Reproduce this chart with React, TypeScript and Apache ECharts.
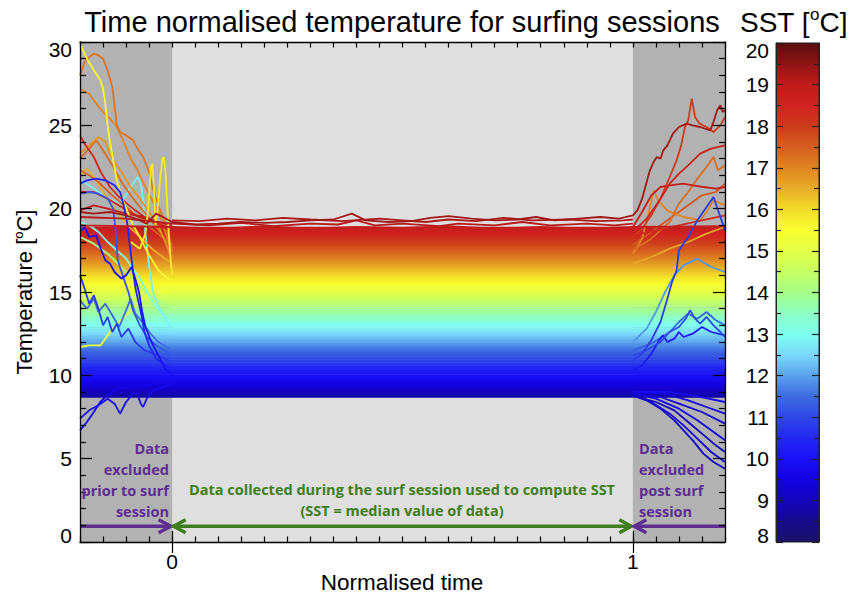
import React, { useEffect, useRef } from 'react';
import * as echarts from 'echarts';

type Pt = [number, number];

// ---------- axes / ranges ----------
const xRange = [-0.2, 1.2];
const yRange = [0, 30];
const xMajorTicks = [0, 1];
const sessionBounds = [0, 1];
const sstRange = [8, 20];
const arrowLevel = 0.95;

// ---------- colour scale (SST -> colour) ----------
const cmapStops = [8, 8.5, 9, 9.5, 10, 10.5, 11, 11.5, 12, 12.5, 13, 13.5, 14, 14.5, 15, 15.5, 16, 16.5, 17, 17.5, 18, 18.5, 19, 19.5, 20];
const cmapColors = ['#1c1266', '#160a8c', '#1404bc', '#1402e2', '#1a10f6', '#2228f0', '#3048e6', '#3e6ae0', '#5aa2ec', '#7ad8f8', '#80fff0', '#8effc4', '#a6ff8a', '#c6ff62', '#e4ff48', '#f8ff30', '#f2dc2a', '#e8ae28', '#de8422', '#d65e20', '#cc3c1c', '#d02220', '#c01c1c', '#8e1414', '#5a0e10'];

// ---------- sessions forming the dense band (SST of each session) ----------
const bandSST = [8.72, 8.8, 8.88, 8.97, 9.05, 9.14, 9.22, 9.3, 9.4, 9.48, 9.57, 9.65, 9.74, 9.83, 9.92, 10.0, 10.1, 10.18, 10.27, 10.36, 10.45, 10.55, 10.63, 10.72, 10.82, 10.9, 11.0, 11.08, 11.18, 11.27, 11.36, 11.46, 11.55, 11.64, 11.74, 11.83, 11.92, 12.02, 12.12, 12.22, 12.3, 12.42, 12.5, 12.6, 12.7, 12.82, 12.95, 13.05, 13.15, 13.25, 13.35, 13.45, 13.56, 13.7, 13.8, 13.9, 14.0, 14.15, 14.25, 14.35, 14.45, 14.55, 14.65, 14.75, 14.85, 14.95, 15.05, 15.15, 15.25, 15.35, 15.45, 15.55, 15.65, 15.75, 15.85, 15.95, 16.05, 16.15, 16.25, 16.35, 16.45, 16.55, 16.65, 16.75, 16.85, 16.95, 17.05, 17.15, 17.25, 17.35, 17.45, 17.55, 17.65, 17.75, 17.85, 17.95, 18.05, 18.15, 18.25, 18.35, 18.45, 18.55, 18.65, 18.75, 18.85];

// ---------- individually visible traces ----------
const warmestSession: Pt[] = [[-0.2, 19.8], [-0.17, 19.7], [-0.135, 19.8], [-0.1, 19.6], [-0.07, 19.3], [-0.055, 19.1], [-0.045, 19.4], [-0.035, 19.7], [-0.02, 19.5], [0, 19.2], [0.05, 19.05], [0.1, 19.1], [0.15, 19.2], [0.2, 19.15], [0.25, 19.2], [0.3, 19.3], [0.35, 19.35], [0.39, 19.7], [0.42, 19.3], [0.47, 19.2], [0.52, 19.25], [0.56, 19.45], [0.6, 19.55], [0.65, 19.4], [0.7, 19.3], [0.75, 19.35], [0.79, 19.5], [0.83, 19.3], [0.88, 19.4], [0.93, 19.5], [0.97, 19.4], [1.0, 19.6], [1.01, 19.9], [1.02, 20.6], [1.03, 21.6], [1.037, 22.3], [1.045, 22.8], [1.052, 23.1], [1.06, 23.0], [1.066, 23.5], [1.075, 23.8], [1.087, 24.5], [1.1, 24.9], [1.117, 25.1], [1.13, 25.0], [1.146, 24.9], [1.168, 24.7], [1.175, 25.2], [1.183, 25.9], [1.19, 26.2], [1.195, 25.8], [1.2, 25.9]];
const warmSession2: Pt[] = [[-0.2, 19.5], [-0.1, 19.4], [0, 19.1], [0.08, 19.0], [0.15, 19.15], [0.22, 18.95], [0.3, 19.1], [0.36, 19.05], [0.4, 19.3], [0.44, 19.0], [0.5, 19.1], [0.58, 18.95], [0.62, 19.1], [0.7, 19.0], [0.76, 19.2], [0.82, 19.0], [0.9, 19.1], [0.96, 19.0], [1.0, 19.1]];
const warmSession3: Pt[] = [[-0.2, 19.0], [0, 18.9], [0.1, 18.8], [0.2, 18.95], [0.3, 18.8], [0.4, 18.9], [0.5, 18.85], [0.6, 18.95], [0.7, 18.8], [0.8, 18.9], [0.9, 18.8], [1.0, 18.9], [1.2, 18.95]];
const warmSession4: Pt[] = [[0, 19.3], [0.06, 19.25], [0.12, 19.4], [0.18, 19.3], [0.24, 19.45], [0.3, 19.35], [0.37, 19.25], [0.45, 19.4], [0.5, 19.3], [0.55, 19.2], [0.6, 19.35], [0.66, 19.25], [0.72, 19.45], [0.78, 19.3], [0.86, 19.35], [0.92, 19.25], [0.98, 19.3], [1.0, 19.35]];

// pre-session (x < 0)
const preYellowSteep: Pt[] = [[-0.2, 29.9], [-0.185, 29.0], [-0.17, 28.3], [-0.156, 27.7], [-0.15, 27.2], [-0.145, 26.3], [-0.139, 24.7], [-0.13, 23.2], [-0.12, 21.7], [-0.11, 20.7], [-0.098, 19.9], [-0.085, 19.0], [-0.07, 18.3], [-0.05, 17.2], [-0.03, 16.3], [0, 15.6]];
const preYellowSpikes: Pt[] = [[-0.09, 18.0], [-0.07, 17.6], [-0.058, 18.5], [-0.052, 20.0], [-0.046, 22.5], [-0.043, 22.7], [-0.04, 21.5], [-0.036, 19.0], [-0.032, 19.8], [-0.026, 21.8], [-0.021, 23.0], [-0.018, 23.1], [-0.014, 22.0], [-0.01, 19.8], [-0.005, 17.5], [0, 16.0]];
const preOrangeTop: Pt[] = [[-0.2, 28.0], [-0.19, 28.8], [-0.18, 29.1], [-0.17, 29.3], [-0.16, 29.2], [-0.15, 29.0], [-0.14, 28.3], [-0.135, 27.8], [-0.13, 27.3], [-0.125, 26.2], [-0.12, 25.0], [-0.113, 24.6], [-0.1, 24.4], [-0.085, 24.1], [-0.075, 23.6], [-0.063, 23.1], [-0.05, 22.2], [-0.041, 21.1], [-0.03, 20.2], [-0.02, 19.5], [-0.01, 18.6], [0, 17.6]];
const preOrange2: Pt[] = [[-0.2, 27.2], [-0.18, 26.9], [-0.17, 26.5], [-0.15, 25.8], [-0.135, 25.4], [-0.12, 24.9], [-0.105, 24.0], [-0.09, 23.0], [-0.075, 22.3], [-0.06, 21.4], [-0.045, 20.6], [-0.03, 19.8], [-0.015, 18.6], [0, 17.4]];
const preOrange3: Pt[] = [[-0.2, 23.3], [-0.18, 23.8], [-0.16, 24.3], [-0.145, 24.0], [-0.13, 23.0], [-0.11, 22.2], [-0.09, 21.3], [-0.07, 20.6], [-0.05, 19.8], [-0.03, 19.0], [0, 17.0]];
const preOrange4: Pt[] = [[-0.2, 23.0], [-0.18, 23.6], [-0.165, 24.1], [-0.15, 23.5], [-0.13, 22.6], [-0.11, 21.6], [-0.09, 20.8], [-0.07, 20.1], [-0.04, 19.1], [0, 17.6]];
const preOrange5: Pt[] = [[-0.2, 22.3], [-0.18, 22.0], [-0.16, 21.6], [-0.13, 20.8], [-0.1, 20.1], [-0.07, 19.4], [-0.04, 18.7], [0, 17.8]];
const preAmber: Pt[] = [[-0.2, 22.0], [-0.185, 22.4], [-0.17, 21.9], [-0.15, 21.0], [-0.125, 20.0], [-0.1, 19.1], [-0.07, 18.3], [-0.04, 17.5], [0, 16.7]];
const preRed1: Pt[] = [[-0.2, 24.4], [-0.19, 23.9], [-0.17, 23.1], [-0.155, 22.2], [-0.135, 21.3], [-0.115, 20.7], [-0.098, 20.3], [-0.08, 19.9], [-0.06, 19.5], [-0.04, 19.2], [-0.02, 18.9], [0, 18.6]];
const preRed2: Pt[] = [[-0.2, 21.0], [-0.17, 21.0], [-0.14, 20.6], [-0.11, 20.1], [-0.08, 19.6], [-0.05, 19.3], [-0.02, 19.0], [0, 18.8]];
const preDarkRed: Pt[] = [[-0.2, 19.9], [-0.17, 20.2], [-0.14, 20.0], [-0.1, 19.7], [-0.06, 19.5], [-0.03, 19.2], [0, 19.0]];
const preCyan: Pt[] = [[-0.2, 21.7], [-0.18, 21.4], [-0.16, 21.0], [-0.14, 20.6], [-0.12, 20.4], [-0.105, 20.6], [-0.095, 21.1], [-0.085, 21.5], [-0.075, 21.9], [-0.068, 21.5], [-0.062, 20.3], [-0.058, 18.5], [-0.05, 16.5], [-0.04, 14.8], [-0.02, 13.6], [0, 12.8]];
const preAqua: Pt[] = [[-0.2, 19.2], [-0.18, 19.0], [-0.16, 18.6], [-0.14, 18.0], [-0.12, 17.5], [-0.1, 17.0], [-0.07, 15.8], [-0.04, 14.3], [0, 13.0]];
const preGreen: Pt[] = [[-0.2, 18.3], [-0.17, 17.9], [-0.14, 17.3], [-0.11, 16.5], [-0.08, 15.6], [-0.05, 14.8], [0, 14.0]];
const preBlueA: Pt[] = [[-0.2, 21.5], [-0.185, 21.7], [-0.165, 21.8], [-0.145, 21.7], [-0.125, 21.4], [-0.113, 21.0], [-0.105, 20.2], [-0.098, 19.2], [-0.092, 17.8], [-0.086, 16.5], [-0.08, 15.3], [-0.074, 14.5], [-0.068, 13.8], [-0.06, 12.6], [-0.05, 11.8], [-0.035, 11.0], [-0.015, 10.6], [0, 10.4]];
const preBlueB: Pt[] = [[-0.2, 20.9], [-0.18, 21.0], [-0.16, 20.9], [-0.14, 20.6], [-0.128, 20.0], [-0.122, 18.5], [-0.118, 16.9], [-0.112, 16.4], [-0.105, 15.8], [-0.095, 15.0], [-0.085, 13.9], [-0.07, 13.0], [-0.055, 12.3], [-0.035, 11.8], [0, 11.2]];
const preBlueSpiky: Pt[] = [[-0.2, 18.6], [-0.19, 18.9], [-0.18, 18.3], [-0.165, 18.4], [-0.155, 17.6], [-0.145, 16.9], [-0.135, 16.7], [-0.125, 16.2], [-0.11, 15.8], [-0.1, 16.0], [-0.088, 16.5], [-0.078, 15.6], [-0.072, 15.0], [-0.065, 13.8], [-0.058, 12.9], [-0.045, 12.0], [-0.03, 11.2], [-0.015, 10.4], [0, 10.0]];
const preBlueZig1: Pt[] = [[-0.2, 16.0], [-0.19, 15.2], [-0.18, 14.3], [-0.17, 14.8], [-0.16, 14.0], [-0.15, 13.0], [-0.14, 13.5], [-0.13, 12.6], [-0.12, 13.1], [-0.11, 12.3], [-0.095, 12.8], [-0.08, 12.0], [-0.06, 11.5], [-0.04, 11.3], [0, 10.8]];
const preBlueZig2: Pt[] = [[-0.2, 14.5], [-0.185, 14.0], [-0.17, 14.6], [-0.16, 13.8], [-0.145, 14.3], [-0.13, 13.6], [-0.115, 12.9], [-0.1, 13.9], [-0.09, 14.6], [-0.08, 13.7], [-0.065, 13.2], [-0.05, 12.6], [-0.03, 12.0], [0, 11.5]];
const preLime: Pt[] = [[-0.2, 11.7], [-0.18, 11.8], [-0.155, 11.8], [-0.14, 12.4], [-0.12, 13.1], [-0.1, 13.6], [-0.085, 14.0], [-0.07, 14.5], [-0.05, 14.9], [-0.03, 15.0], [0, 15.0]];
const preBlueLow1: Pt[] = [[-0.2, 6.7], [-0.185, 7.2], [-0.17, 7.8], [-0.156, 8.4], [-0.145, 8.7], [-0.135, 8.9], [-0.12, 9.2], [-0.1, 9.3], [0, 9.6]];
const preBlueLow2: Pt[] = [[-0.2, 7.4], [-0.18, 7.9], [-0.16, 8.2], [-0.14, 8.6], [-0.125, 8.3], [-0.113, 7.7], [-0.1, 8.4], [-0.085, 8.9], [-0.076, 8.9], [-0.068, 8.3], [-0.063, 8.1], [-0.055, 8.6], [-0.045, 9.0], [-0.03, 9.2], [0, 9.5]];

// post-session (x > 1)
const postOrangeRedPeak: Pt[] = [[1.0, 18.3], [1.02, 18.8], [1.04, 19.6], [1.06, 20.6], [1.08, 21.9], [1.095, 22.9], [1.105, 23.8], [1.113, 24.9], [1.12, 25.3], [1.128, 26.6], [1.135, 25.5], [1.145, 25.1], [1.16, 24.9], [1.175, 24.6], [1.19, 25.0], [1.2, 25.5]];
const postRed1: Pt[] = [[1.0, 18.6], [1.03, 19.4], [1.06, 20.6], [1.08, 21.5], [1.1, 22.1], [1.12, 22.6], [1.146, 23.3], [1.17, 23.6], [1.2, 23.8]];
const postRed2: Pt[] = [[1.0, 18.9], [1.02, 19.8], [1.04, 20.8], [1.06, 21.3], [1.08, 21.4], [1.11, 21.5], [1.13, 21.4], [1.153, 21.3], [1.18, 21.2], [1.2, 21.3]];
const postRed3: Pt[] = [[1.0, 18.4], [1.05, 18.7], [1.1, 19.0], [1.15, 19.3], [1.2, 19.6]];
const postOrange1: Pt[] = [[1.0, 17.5], [1.04, 18.2], [1.08, 19.2], [1.1, 20.3], [1.12, 21.0], [1.14, 21.8], [1.16, 22.5], [1.175, 23.1], [1.185, 22.3], [1.2, 22.6]];
const postOrange2: Pt[] = [[1.0, 17.3], [1.02, 18.2], [1.035, 19.8], [1.045, 21.1], [1.055, 20.5], [1.074, 19.9], [1.09, 19.7], [1.11, 19.5], [1.13, 19.4], [1.146, 19.3], [1.16, 19.8], [1.175, 20.5], [1.2, 20.2]];
const postOrange3: Pt[] = [[1.0, 17.8], [1.03, 18.4], [1.06, 19.0], [1.09, 19.6], [1.12, 20.2], [1.15, 20.8], [1.18, 21.0], [1.2, 21.5]];
const postAmber: Pt[] = [[1.0, 16.7], [1.04, 17.1], [1.08, 17.6], [1.12, 18.0], [1.16, 18.5], [1.2, 18.9]];
const postBlueRise1: Pt[] = [[1.0, 10.9], [1.02, 11.3], [1.04, 12.1], [1.06, 13.2], [1.074, 14.5], [1.085, 15.6], [1.095, 16.3], [1.1, 17.5], [1.12, 18.3], [1.14, 19.3], [1.16, 20.1], [1.175, 20.7], [1.19, 19.5], [1.2, 18.7]];
const postBlueRise2: Pt[] = [[1.0, 12.0], [1.03, 12.8], [1.05, 13.8], [1.07, 15.0], [1.09, 16.0], [1.11, 16.6], [1.14, 17.0], [1.17, 16.5], [1.2, 16.2]];
const postBlueBump1: Pt[] = [[1.0, 11.2], [1.03, 11.5], [1.06, 12.0], [1.08, 12.6], [1.1, 12.9], [1.115, 13.4], [1.124, 13.9], [1.135, 13.4], [1.146, 13.1], [1.16, 13.5], [1.175, 13.0], [1.19, 12.6], [1.2, 12.3]];
const postBlueBump2: Pt[] = [[1.0, 10.3], [1.02, 10.6], [1.04, 11.3], [1.055, 12.0], [1.065, 12.4], [1.075, 12.0], [1.09, 12.2], [1.1, 12.6], [1.11, 12.3], [1.13, 12.5], [1.15, 12.9], [1.17, 12.6], [1.2, 12.4]];
const postBlueBump3: Pt[] = [[1.0, 11.5], [1.04, 11.9], [1.08, 12.6], [1.1, 13.2], [1.12, 13.7], [1.14, 13.4], [1.16, 13.8], [1.18, 13.3], [1.2, 13.0]];
const postBlueDrop1: Pt[] = [[1.0, 8.8], [1.03, 8.5], [1.06, 8.0], [1.09, 7.3], [1.11, 6.7], [1.13, 6.1], [1.153, 5.3], [1.175, 4.8], [1.2, 4.4]];
const postBlueDrop2: Pt[] = [[1.0, 8.8], [1.04, 8.4], [1.08, 7.7], [1.11, 7.0], [1.14, 6.2], [1.17, 5.4], [1.2, 4.8]];
const postBlueDrop3: Pt[] = [[1.0, 8.8], [1.05, 8.4], [1.09, 7.9], [1.12, 7.2], [1.15, 6.5], [1.18, 5.8], [1.2, 5.4]];
const postBlueDrop4: Pt[] = [[1.0, 8.9], [1.05, 8.6], [1.1, 8.0], [1.14, 7.3], [1.17, 6.7], [1.2, 6.1]];
const postBlueDrop5: Pt[] = [[1.0, 8.9], [1.06, 8.7], [1.1, 8.3], [1.15, 7.8], [1.2, 7.1]];
const postBlueDrop6: Pt[] = [[1.0, 9.0], [1.07, 8.9], [1.12, 8.5], [1.16, 8.1], [1.2, 7.7]];
const postBlueDrop7: Pt[] = [[1.0, 9.0], [1.08, 9.0], [1.13, 8.8], [1.2, 8.4]];

// [SST of the session, trace]
const highlightedTraces: [number, Pt[]][] = [
  [15.3, preLime], [9.6, preBlueLow1], [9.8, preBlueLow2],
  [14.0, preGreen], [13.0, preAqua], [12.8, preCyan],
  [16.5, preAmber], [17.5, preOrange5], [17.3, preOrange4], [16.8, preOrange3], [17.0, preOrange2], [17.2, preOrangeTop],
  [18.6, preRed2], [18.4, preRed1], [19.0, preDarkRed],
  [15.6, preYellowSteep], [15.8, preYellowSpikes],
  [11.5, preBlueZig2], [10.8, preBlueZig1], [11.2, preBlueB], [10.4, preBlueA], [10.0, preBlueSpiky],
  [16.6, postAmber], [17.6, postOrange3], [17.0, postOrange2], [17.3, postOrange1], [18.0, postOrangeRedPeak],
  [18.3, postRed3], [18.8, postRed2], [18.6, postRed1],
  [11.4, postBlueBump3], [10.2, postBlueBump2], [11.0, postBlueBump1], [11.9, postBlueRise2], [10.8, postBlueRise1],
  [9.2, postBlueDrop1], [9.4, postBlueDrop2], [9.0, postBlueDrop3], [9.6, postBlueDrop4], [9.3, postBlueDrop5], [9.5, postBlueDrop6], [9.8, postBlueDrop7],
  [18.9, warmSession3], [19.1, warmSession2], [19.2, warmSession4], [19.3, warmestSession],
];

// arrows: [from x, to x, level, head at from, head at to, colour index]
const arrowSpecs = [
  [-0.2, 0, arrowLevel, 0, 1, 0],
  [0, 1, arrowLevel, 1, 1, 1],
  [1.2, 1, arrowLevel, 0, 1, 0],
];
const annotationColors = ['#5d2d92', '#3f7e1e'];

// ---------- helpers ----------
function hexRgb(h: string) {
  const n = parseInt(h.slice(1), 16);
  return [(n >> 16) & 255, (n >> 8) & 255, n & 255];
}
function sstColor(v: number) {
  const s = cmapStops;
  if (v <= s[0]) return cmapColors[0];
  if (v >= s[s.length - 1]) return cmapColors[s.length - 1];
  let i = 0;
  while (s[i + 1] < v) i++;
  const t = (v - s[i]) / (s[i + 1] - s[i]);
  const a = hexRgb(cmapColors[i]);
  const b = hexRgb(cmapColors[i + 1]);
  const c = a.map((av, k) => Math.round(av + (b[k] - av) * t));
  return `rgb(${c[0]},${c[1]},${c[2]})`;
}

const FONT = "'Liberation Sans', Arial, Helvetica, sans-serif";
const ANNOT_FONT = "'Open Sans', 'DejaVu Sans', sans-serif";
const black = '#000';

function buildOption() {
  const series: any[] = [];

  bandSST.forEach((sst, i) => {
    const s: any = {
      type: 'line',
      data: [[xRange[0], sst], [sessionBounds[0], sst], [sessionBounds[1], sst], [xRange[1], sst]],
      showSymbol: false,
      symbol: 'none',
      silent: true,
      lineStyle: { color: sstColor(sst), width: 2.3 },
      z: 2,
    };
    if (i === 0) {
      s.markArea = {
        silent: true,
        itemStyle: { color: '#b2b2b2' },
        data: [
          [{ xAxis: xRange[0] }, { xAxis: sessionBounds[0] }],
          [{ xAxis: sessionBounds[1] }, { xAxis: xRange[1] }],
        ],
      };
    }
    series.push(s);
  });

  highlightedTraces.forEach(([sst, pts]) => {
    series.push({
      type: 'line',
      data: pts,
      showSymbol: false,
      symbol: 'none',
      silent: true,
      lineStyle: { color: sstColor(sst), width: 1.8 },
      z: 3,
    });
  });

  series.push({
    type: 'custom',
    xAxisIndex: 0,
    yAxisIndex: 0,
    silent: true,
    z: 5,
    data: arrowSpecs,
    renderItem: (_p: any, api: any) => {
      const a = api.coord([api.value(0), api.value(2)]);
      const b = api.coord([api.value(1), api.value(2)]);
      const color = annotationColors[api.value(5)];
      const dir = Math.sign(b[0] - a[0]);
      const w = 3.5;
      const children: any[] = [
        { type: 'line', shape: { x1: a[0], y1: a[1], x2: b[0] - dir * 1.5, y2: b[1] }, style: { stroke: color, lineWidth: w } },
      ];
      const head = (tip: number[], d: number) => ({
        type: 'polyline',
        shape: { points: [[tip[0] - d * 12, tip[1] - 6.5], [tip[0], tip[1]], [tip[0] - d * 12, tip[1] + 6.5]] },
        style: { stroke: color, lineWidth: w, fill: null, lineJoin: 'miter' },
      });
      if (api.value(4)) children.push(head([b[0] - dir * 1.5, b[1]], dir));
      if (api.value(3)) children.push(head([a[0] + dir * 1.5, a[1]], -dir));
      return { type: 'group', children };
    },
  });

  // colour bar
  const stops = cmapStops
    .map((v, i) => ({ offset: (sstRange[1] - v) / (sstRange[1] - sstRange[0]), color: cmapColors[i] }))
    .sort((p, q) => p.offset - q.offset);
  series.push({
    type: 'custom',
    xAxisIndex: 4,
    yAxisIndex: 2,
    silent: true,
    z: 1,
    data: [[0, sstRange[0], 1, sstRange[1]]],
    renderItem: (_p: any, api: any) => {
      const p0 = api.coord([api.value(0), api.value(3)]);
      const p1 = api.coord([api.value(2), api.value(1)]);
      return {
        type: 'rect',
        shape: { x: p0[0], y: p0[1], width: p1[0] - p0[0], height: p1[1] - p0[1] },
        style: { fill: new echarts.graphic.LinearGradient(0, 0, 0, 1, stops), stroke: '#222', lineWidth: 1 },
      };
    },
  });

  const axisLine = { show: true, onZero: false, lineStyle: { color: black, width: 1.3 } };
  const tickStyle = { color: black, width: 1.2 };
  const labelStyle = { color: black, fontSize: 21, fontFamily: FONT };

  const xBase = { type: 'value', gridIndex: 0, min: xRange[0], max: xRange[1], splitLine: { show: false }, z: 10 };
  const xAxis: any[] = [
    { ...xBase, position: 'bottom', interval: 0.05, axisLine, axisTick: { show: true, inside: true, length: 5.5, lineStyle: tickStyle }, axisLabel: { show: false } },
    {
      ...xBase, position: 'bottom', axisLine: { show: false },
      axisTick: { show: true, inside: true, length: 11, lineStyle: tickStyle, customValues: xMajorTicks },
      axisLabel: { show: true, customValues: xMajorTicks, margin: 9, ...labelStyle },
    },
    { ...xBase, position: 'top', interval: 0.05, axisLine, axisTick: { show: true, inside: true, length: 5.5, lineStyle: tickStyle }, axisLabel: { show: false } },
    { ...xBase, position: 'top', axisLine: { show: false }, axisTick: { show: true, inside: true, length: 11, lineStyle: tickStyle, customValues: xMajorTicks }, axisLabel: { show: false } },
    { type: 'value', gridIndex: 1, min: 0, max: 1, show: false },
  ];

  const supRich = { sup: { fontSize: 13, verticalAlign: 'top', fontFamily: FONT, color: black } };
  const yBase = {
    type: 'value', gridIndex: 0, min: yRange[0], max: yRange[1], interval: 5, splitLine: { show: false }, z: 10,
    axisLine, axisTick: { show: true, inside: true, length: 12, lineStyle: tickStyle },
    minorTick: { show: true, splitNumber: 5, length: 6, lineStyle: tickStyle },
  };
  const cbBase = {
    type: 'value', gridIndex: 1, min: sstRange[0], max: sstRange[1], interval: 1, splitLine: { show: false }, z: 10,
    axisLine: { show: true, onZero: false, lineStyle: { color: '#222', width: 1 } },
    axisTick: { show: true, inside: true, length: 7, lineStyle: { color: '#222', width: 1.2 } },
    minorTick: { show: true, splitNumber: 2, length: 5, lineStyle: { color: '#222', width: 1.2 } },
  };
  const edgeLabel = { verticalAlignMinLabel: 'bottom', verticalAlignMaxLabel: 'top', lineHeight: 14 };
  const yAxis: any[] = [
    {
      ...yBase, position: 'left',
      axisLabel: { show: true, margin: 8, ...edgeLabel, ...labelStyle },
      name: 'Temperature [{sup|o}C]', nameLocation: 'middle', nameGap: 44, nameRotate: 90,
      nameTextStyle: { color: black, fontSize: 22, fontFamily: FONT, lineHeight: 24, rich: supRich },
    },
    { ...yBase, position: 'right', axisLabel: { show: false } },
    { ...cbBase, position: 'left', axisLabel: { show: true, margin: 7, ...edgeLabel, ...labelStyle } },
    { ...cbBase, position: 'right', axisLabel: { show: false } },
  ];

  const annot = (text: string, x: number, y: number, align: string, color: string) => ({
    type: 'text', x, y, z: 100, silent: true,
    style: { text, fontSize: 14.5, fontWeight: 'bold', fontFamily: ANNOT_FONT, fill: color, lineHeight: 20.7, align, verticalAlign: 'top', textAlign: align, textVerticalAlign: 'top' },
  });

  const graphic: any[] = [
    {
      type: 'text', x: 402, y: 22, z: 100, silent: true,
      style: { text: 'Time normalised temperature for surfing sessions', fontSize: 29, fontFamily: FONT, fill: black, align: 'center', verticalAlign: 'middle', textAlign: 'center', textVerticalAlign: 'middle' },
    },
    {
      type: 'text', x: 740, y: 22, z: 100, silent: true,
      style: {
        text: 'SST [{sup|o}C]', fontSize: 28, fontFamily: FONT, fill: black, lineHeight: 32,
        align: 'left', verticalAlign: 'middle', textAlign: 'left', textVerticalAlign: 'middle',
        rich: { sup: { fontSize: 17, verticalAlign: 'top', fontFamily: FONT, fill: black } },
      },
    },
    {
      type: 'text', x: 402, y: 582, z: 100, silent: true,
      style: { text: 'Normalised time', fontSize: 22.5, fontFamily: FONT, fill: black, align: 'center', verticalAlign: 'middle', textAlign: 'center', textVerticalAlign: 'middle' },
    },
    annot('Data\nexcluded\nprior to surf\nsession', 169, 438.6, 'right', annotationColors[0]),
    annot('Data\nexcluded\npost surf\nsession', 639, 438.6, 'left', annotationColors[0]),
    annot('Data collected during the surf session used to compute SST\n(SST = median value of data)', 402, 479.6, 'center', annotationColors[1]),
  ];

  return {
    animation: false,
    backgroundColor: '#ffffff',
    grid: [
      { left: 80, top: 42, width: 645, height: 500, show: true, backgroundColor: '#dfdfdf', borderWidth: 0, containLabel: false, outerBoundsMode: 'none' },
      { left: 776, top: 43, width: 43, height: 499, show: false, containLabel: false, outerBoundsMode: 'none' },
    ],
    xAxis,
    yAxis,
    series,
    graphic: { elements: graphic, z: 100 } as any,
  };
}

export default function App() {
  const ref = useRef<HTMLDivElement>(null);
  useEffect(() => {
    if (!ref.current) return;
    const chart = echarts.init(ref.current, null, { renderer: 'svg' });
    chart.setOption(buildOption() as any);
    return () => chart.dispose();
  }, []);
  return <div ref={ref} style={{ position: 'absolute', left: 0, top: 0, width: 854, height: 599, background: '#fff' }} />;
}
